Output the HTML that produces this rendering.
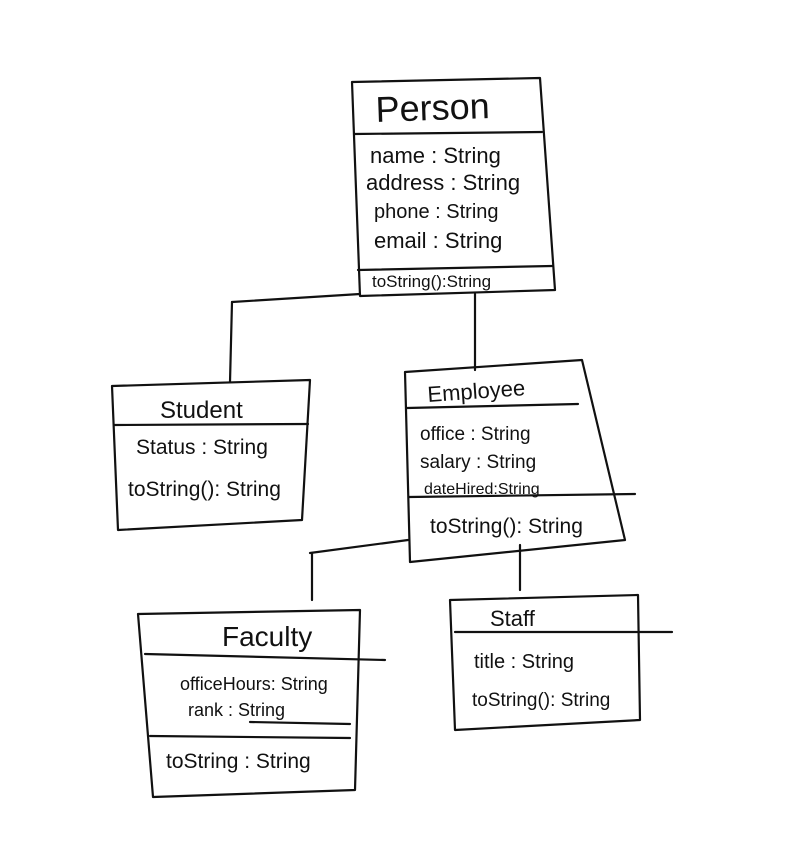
<!DOCTYPE html>
<html><head><meta charset="utf-8"><style>
html,body{margin:0;padding:0;background:#fff;}
svg{display:block}
text{font-family:"Liberation Sans",sans-serif;fill:#111;}
</style></head><body>
<svg width="798" height="842" viewBox="0 0 798 842" xmlns="http://www.w3.org/2000/svg">
<g fill="none" stroke="#111" stroke-width="2.2" stroke-linecap="round" stroke-linejoin="round">
<path d="M352 82 L540 78 L555 290 L360 296 Z"/>
<path d="M354 134 L542 132"/>
<path d="M358 270 L552 266"/>
<path d="M475 294 L475 370"/>
<path d="M232 302 L360 294"/>
<path d="M232 302 L230 382"/>
<path d="M112 386 L310 380 L302 520 L118 530 Z"/>
<path d="M114 425 L308 424"/>
<path d="M405 372 L582 360 L625 540 L410 562 Z"/>
<path d="M407 408 L578 404"/>
<path d="M409 497 L635 494"/>
<path d="M520 545 L520 590"/>
<path d="M310 553 L408 540"/>
<path d="M312 553 L312 600"/>
<path d="M138 614 L360 610 L355 790 L153 797 Z"/>
<path d="M145 654 L385 660"/>
<path d="M150 736 L350 738"/>
<path d="M250 722 L350 724"/>
<path d="M450 600 L638 595 L640 720 L455 730 Z"/>
<path d="M455 632 L672 632"/>
</g>
<text x="376" y="122" font-size="36" transform="rotate(-2 376 122)">Person</text>
<text x="370" y="163" font-size="22">name : String</text>
<text x="366" y="190" font-size="22">address : String</text>
<text x="374" y="218" font-size="20">phone : String</text>
<text x="374" y="248" font-size="22">email : String</text>
<text x="372" y="287" font-size="17">toString():String</text>
<text x="160" y="418" font-size="24">Student</text>
<text x="136" y="454" font-size="21">Status : String</text>
<text x="128" y="496" font-size="21">toString(): String</text>
<text x="428" y="402" font-size="22" transform="rotate(-4 428 402)">Employee</text>
<text x="420" y="440" font-size="19">office : String</text>
<text x="420" y="468" font-size="19">salary : String</text>
<text x="424" y="494" font-size="16">dateHired:String</text>
<text x="430" y="533" font-size="21">toString(): String</text>
<text x="222" y="646" font-size="28">Faculty</text>
<text x="180" y="690" font-size="18">officeHours: String</text>
<text x="188" y="716" font-size="18">rank : String</text>
<text x="166" y="768" font-size="21">toString : String</text>
<text x="490" y="626" font-size="22">Staff</text>
<text x="474" y="668" font-size="20">title : String</text>
<text x="472" y="706" font-size="19">toString(): String</text>
</svg>
</body></html>
